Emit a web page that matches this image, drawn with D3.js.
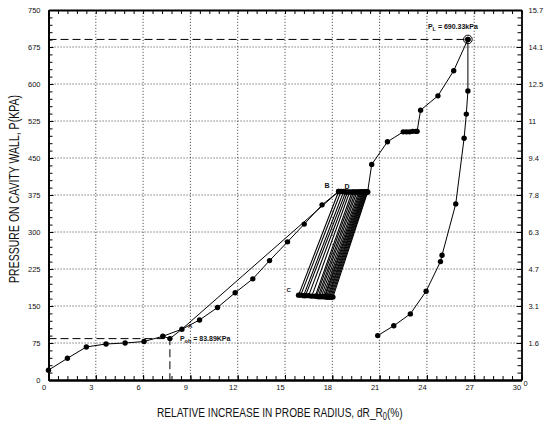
<!DOCTYPE html>
<meta charset="utf-8">
<style>

body { margin: 0; background: #fff; }
svg { display: block; font-family: "Liberation Sans", Arial, sans-serif; }

.grid line { stroke: #333; stroke-width: 0.8; stroke-dasharray: 1.2,1.8; }
.axis path, .axis line { stroke: #000; }
.axis path { stroke-width: 1.8; }
.axis text { font-size: 7.5px; fill: #111; font-family: "Liberation Sans", Arial, sans-serif; }
.curve { fill: none; stroke: #000; stroke-width: 1; }
.cycle { fill: none; stroke: #000; stroke-width: 1.1; }
.dot { fill: #000; }
.dash { fill: none; stroke: #000; stroke-width: 1; stroke-dasharray: 8,4; }
.note { font-size: 7px; font-weight: bold; fill: #111; }
.title { font-size: 14px; fill: #111; }

</style>
<svg width="548" height="426"></svg>
<script src="https://d3js.org/d3.v7.min.js"></script>
<script>

// tick labels
var xTicks = [0, 3, 6, 9, 12, 15, 18, 21, 24, 27, 30],
    yTicks = [0, 75, 150, 225, 300, 375, 450, 525, 600, 675, 750],
    rightTickLabels = ["0", "1.6", "3.1", "4.7", "6.3", "7.8", "9.4", "11", "12.5", "14.1", "15.7"];

// initial loading up to B (strain %, pressure kPa)
var loadStrain   = [0, 1.2, 2.4, 3.65, 4.86, 6.06, 7.25, 7.7, 8.46, 9.58, 10.72, 11.84, 12.96, 14.02, 15.16, 16.22, 17.35, 18.4],
    loadPressure = [20, 44, 67, 73, 75, 78, 88.6, 83.89, 103, 121.6, 147, 177, 205, 242, 280, 316, 355, 382];

// straight secant from the yield zone to B
var secantStrain   = [7.25, 8.46, 18.4],
    secantPressure = [88.6, 103, 382];

// unload / reload cycles between D and C
var cycleTopStrain      = [18.4, 18.55, 18.72, 18.85, 18.97, 19.1, 19.25, 19.35, 19.46, 19.56, 19.67, 19.75, 19.82, 19.89, 19.95, 20.0, 20.05, 20.1, 20.15, 20.2, 20.24],
    cycleTopPressure    = [382, 382, 382, 381, 381, 381, 381, 381, 381, 381, 381, 381, 381, 381, 381, 381, 381, 381, 381, 381, 381],
    cycleBottomStrain   = [15.86, 16.0, 16.18, 16.3, 16.5, 16.7, 16.92, 17.0, 17.1, 17.19, 17.3, 17.41, 17.5, 17.55, 17.62, 17.7, 17.76, 17.83, 17.9, 17.97, 18.04],
    cycleBottomPressure = [172, 172, 171, 171, 171, 170, 170, 170, 169, 169, 169, 169, 169, 169, 168, 168, 168, 168, 168, 168, 168];

// loading after cycles up to limit pressure
var upperStrain   = [20.24, 20.5, 21.5, 22.5, 22.7, 22.9, 23.1, 23.3, 23.38, 23.6, 24.7, 25.7, 26.6],
    upperPressure = [381, 437, 483, 503, 503, 503, 504, 504, 504, 547, 576, 627, 690.33];

// final unloading
var unloadStrain   = [26.6, 26.6, 26.5, 26.36, 25.83, 24.96, 24.86, 23.95, 22.95, 21.9, 20.88],
    unloadPressure = [690.33, 586, 539, 490, 357, 253, 240, 180, 134, 110, 90];

var poh = 83.89, pohStrain = 7.7,
    pl = 690.33, plStrain = 26.6;

var svg = d3.select("svg");

var x = d3.scaleLinear().domain([0, 30]).range([48.5, 521.5]),
    y = d3.scaleLinear().domain([0, 750]).range([380, 10]);

function zip(a, b) { return a.map(function(v, i) { return [v, b[i]]; }); }

var line = d3.line()
    .x(function(d) { return x(d[0]); })
    .y(function(d) { return y(d[1]); });

// grid
var grid = svg.append("g").attr("class", "grid");
grid.selectAll(".gx")
  .data(xTicks.slice(1, -1))
  .enter().append("line")
    .attr("x1", x).attr("x2", x)
    .attr("y1", y(0)).attr("y2", y(750));
grid.selectAll(".gy")
  .data(yTicks.slice(1, -1))
  .enter().append("line")
    .attr("x1", x(0)).attr("x2", x(30))
    .attr("y1", y).attr("y2", y);

// axes
var minorX = d3.range(0, 30.01, 0.6),
    minorY = d3.range(0, 750.1, 15);

svg.append("g").attr("class", "axis")
    .attr("transform", "translate(" + x(0) + ",0)")
    .call(d3.axisLeft(y).tickValues(minorY).tickSize(-4).tickSizeOuter(0).tickFormat(""));
svg.append("g").attr("class", "axis")
    .attr("transform", "translate(" + x(0) + ",0)")
    .call(d3.axisLeft(y).tickValues(yTicks).tickSize(-5).tickSizeOuter(0).tickPadding(8));

svg.append("g").attr("class", "axis")
    .attr("transform", "translate(" + x(30) + ",0)")
    .call(d3.axisRight(y).tickValues(minorY).tickSize(-4).tickSizeOuter(0).tickFormat(""))
    .select("path").style("stroke-width", 1.4);
var right = svg.append("g").attr("class", "axis")
    .attr("transform", "translate(" + x(30) + ",0)")
    .call(d3.axisRight(y).tickValues(yTicks).tickSize(-5).tickSizeOuter(0).tickPadding(7)
      .tickFormat(function(d, i) { return rightTickLabels[i]; }));
right.select("path").style("stroke-width", 1.4);
right.selectAll("text").filter(function(d) { return d === 0; })
    .attr("x", 2).attr("dy", "0.7em");

svg.append("g").attr("class", "axis")
    .attr("transform", "translate(0," + y(0) + ")")
    .call(d3.axisBottom(x).tickValues(minorX).tickSize(-4).tickSizeOuter(0).tickFormat(""));
svg.append("g").attr("class", "axis")
    .attr("transform", "translate(0," + y(0) + ")")
    .call(d3.axisBottom(x).tickValues(xTicks).tickSize(-5).tickSizeOuter(0).tickPadding(5))
  .selectAll("text").attr("dx", -5);

svg.append("g").attr("class", "axis")
    .attr("transform", "translate(0," + y(750) + ")")
    .call(d3.axisTop(x).tickValues(minorX).tickSize(-4).tickSizeOuter(0).tickFormat(""));

// dashed reference lines
svg.append("path").attr("class", "dash")
    .attr("d", line([[0, poh], [pohStrain, poh], [pohStrain, 0]]));
svg.append("path").attr("class", "dash")
    .attr("d", line([[0, pl], [plStrain, pl]]));

// curves
var load = zip(loadStrain, loadPressure),
    secant = zip(secantStrain, secantPressure),
    upper = zip(upperStrain, upperPressure),
    unload = zip(unloadStrain, unloadPressure),
    tops = zip(cycleTopStrain, cycleTopPressure),
    bottoms = zip(cycleBottomStrain, cycleBottomPressure);

[load, secant, upper, unload].forEach(function(s) {
  svg.append("path").attr("class", "curve").attr("d", line(s));
});

// one unloading line per cycle, plus the plateau along the top
svg.selectAll(".cycle")
  .data(tops)
  .enter().append("path")
    .attr("class", "cycle")
    .attr("d", function(t, i) { return line([t, bottoms[i]]); });
svg.append("path").attr("class", "curve").attr("d", line(tops));
svg.append("path").attr("class", "curve").attr("d", line(bottoms));

var dots = load.concat(tops, bottoms, upper, unload);
svg.selectAll(".dot")
  .data(dots)
  .enter().append("circle")
    .attr("class", "dot")
    .attr("cx", function(d) { return x(d[0]); })
    .attr("cy", function(d) { return y(d[1]); })
    .attr("r", 2.7);

svg.append("circle")
    .attr("cx", x(plStrain)).attr("cy", y(pl)).attr("r", 4.3)
    .attr("fill", "none").attr("stroke", "#000").attr("stroke-width", 1);

// annotations
function note(tx, ty, txt) {
  return svg.append("text").attr("class", "note").attr("x", tx).attr("y", ty).text(txt);
}
note(x(18.4) - 14, y(382) - 4, "B");
note(x(18.97) - 3, y(382) - 3, "D");
note(x(15.86) - 12, y(170) - 4, "C").style("font-size", "6px");
note(x(8.46) + 6, y(103) - 1, "A").style("font-size", "6px");

var pohText = note(x(pohStrain) + 10, y(poh) + 2, "P");
pohText.append("tspan").attr("dy", 2).style("font-size", "5.5px").text("oh");
pohText.append("tspan").attr("dy", -2).text(" = 83.89KPa");

var plText = note(x(plStrain) - 40, y(pl) - 10, "P");
plText.append("tspan").attr("dy", 2).style("font-size", "5.5px").text("L");
plText.append("tspan").attr("dy", -2).text(" = 690.33kPa");

// axis titles, squeezed to the condensed width of the original
function squeeze(text, width) {
  var w = text.node().getComputedTextLength();
  text.attr("transform", "scale(" + (width / w) + ",1)");
}

var yg = svg.append("g").attr("transform", "translate(19,189) rotate(-90)");
var yt = yg.append("text").attr("class", "title")
    .attr("text-anchor", "middle")
    .text("PRESSURE ON CAVITY WALL, P(KPA)");
squeeze(yt, 188);

var xg = svg.append("g").attr("transform", "translate(157,417)");
var xt = xg.append("text").attr("class", "title").style("font-size", "13.5px");
xt.append("tspan").text("RELATIVE INCREASE IN PROBE RADIUS, dR_R");
xt.append("tspan").attr("dy", 3).style("font-size", "10px").text("0");
xt.append("tspan").attr("dy", -3).text("(%)");
squeeze(xt, 246);

</script>
